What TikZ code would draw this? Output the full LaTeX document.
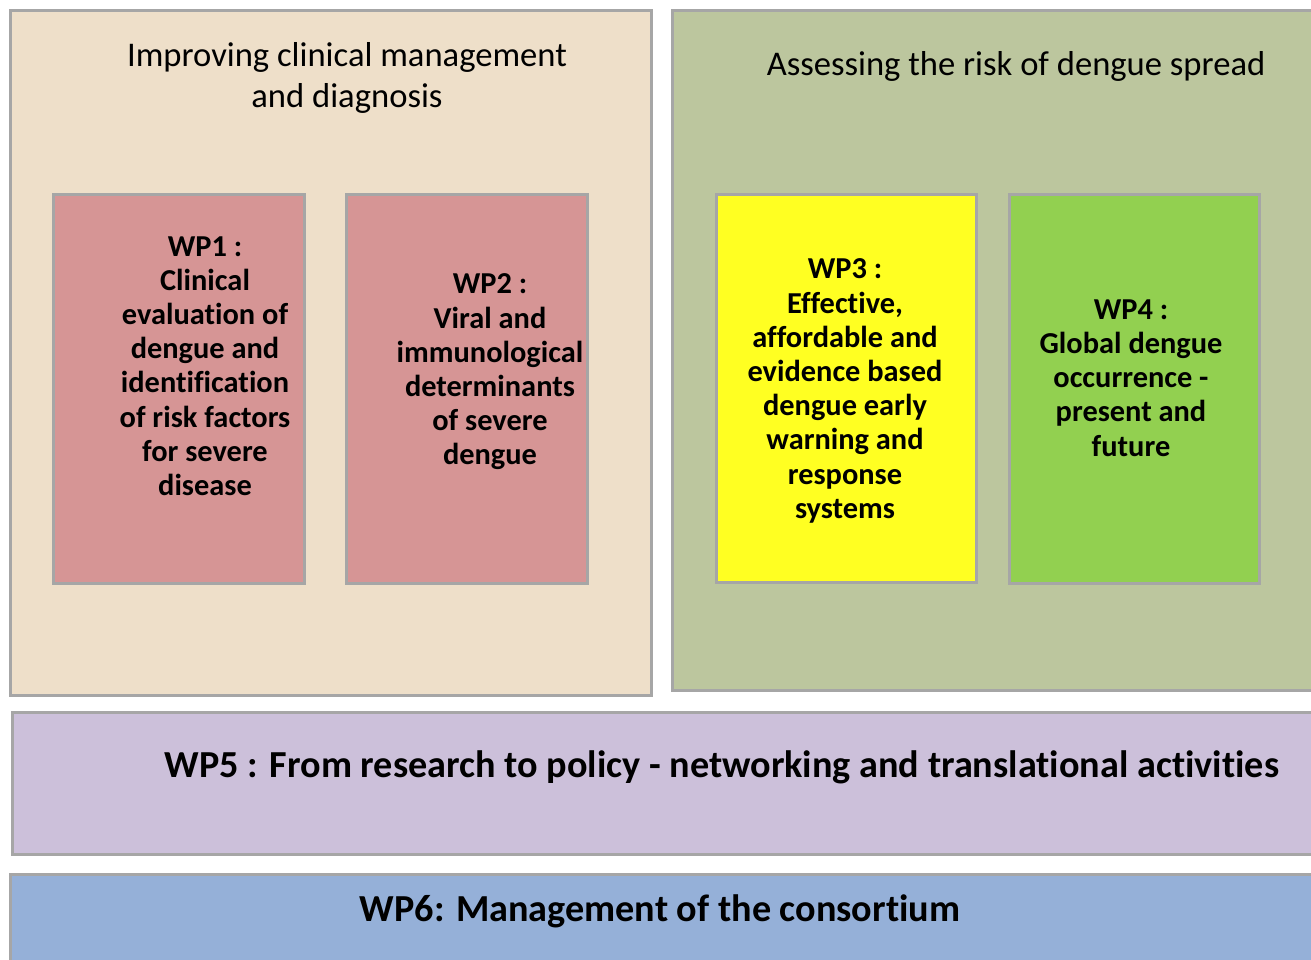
\documentclass[tikz,border=0pt]{standalone}
\usepackage{fontspec}
\setmainfont{Carlito}[Ligatures=NoCommon]
\definecolor{bordergray}{HTML}{A6A6A6}
\definecolor{wheatfill}{HTML}{EEDFC9}
\definecolor{olivefill}{HTML}{BCC69E}
\definecolor{rosefill}{HTML}{D69595}
\definecolor{yellowfill}{HTML}{FFFF22}
\definecolor{greenfill}{HTML}{92D050}
\definecolor{lilacfill}{HTML}{CCC0DA}
\definecolor{bluefill}{HTML}{95B0D8}
\tikzset{
  panel/.style={draw=bordergray, line width=3pt, anchor=north west, inner sep=0pt, outer sep=0pt},
  headtext/.style={align=center, font=\fontsize{34.6}{41.5}\selectfont, inner sep=0pt},
  wptext/.style={align=center, font=\fontsize{30.4}{34.2}\selectfont\bfseries, inner sep=0pt},
  bartext/.style={font=\fontsize{38.2}{44}\selectfont\bfseries, inner sep=0pt}
}
\begin{document}
\begin{tikzpicture}[x=1pt,y=-1pt]
\clip (0,0) rectangle (1311,959);
\fill[white] (0,0) rectangle (1311,959);
% big panels
\node[panel, fill=wheatfill, minimum width=641pt, minimum height=685pt] (left) at (10,10) {};
\node[panel, fill=olivefill, minimum width=660pt, minimum height=680pt] (right) at (672,10) {};
% WP boxes
\node[panel, fill=rosefill, minimum width=251pt, minimum height=389pt] (wp1) at (53,194) {};
\node[panel, fill=rosefill, minimum width=241pt, minimum height=389pt] (wp2) at (346,194) {};
\node[panel, fill=yellowfill, minimum width=260pt, minimum height=388pt] (wp3) at (716,194) {};
\node[panel, fill=greenfill, minimum width=250pt, minimum height=389pt] (wp4) at (1009,194) {};
\node[panel, fill=lilacfill, minimum width=1320pt, minimum height=142pt] (wp5) at (12,712) {};
\node[panel, fill=bluefill, minimum width=1320pt, minimum height=100pt] (wp6) at (10,874) {};
% headings
\node[headtext] (lefthead) at (347,78) {Improving clinical management\\and diagnosis};
\node[headtext] (righthead) at (1016,66) {Assessing the risk of dengue spread};
% WP texts
\node[wptext] (wp1t) at (205,366) {WP1 :\\Clinical\\evaluation of\\dengue and\\identification\\of risk factors\\for severe\\disease};
\node[wptext] (wp2t) at (490,372) {WP2 :\\Viral and\\immunological\\determinants\\of severe\\dengue};
\node[wptext] (wp3t) at (845,391) {WP3 :\\Effective,\\affordable and\\evidence based\\dengue early\\warning and\\response\\systems};
\node[wptext] (wp4t) at (1131,378) {WP4 :\\Global dengue\\occurrence -\\present and\\future};
\node[bartext] (wp5t) at (722,767) {WP5 : From research to policy - networking and translational activities};
\node[bartext] (wp6t) at (660,911) {WP6: Management of the consortium};
\end{tikzpicture}
\end{document}
